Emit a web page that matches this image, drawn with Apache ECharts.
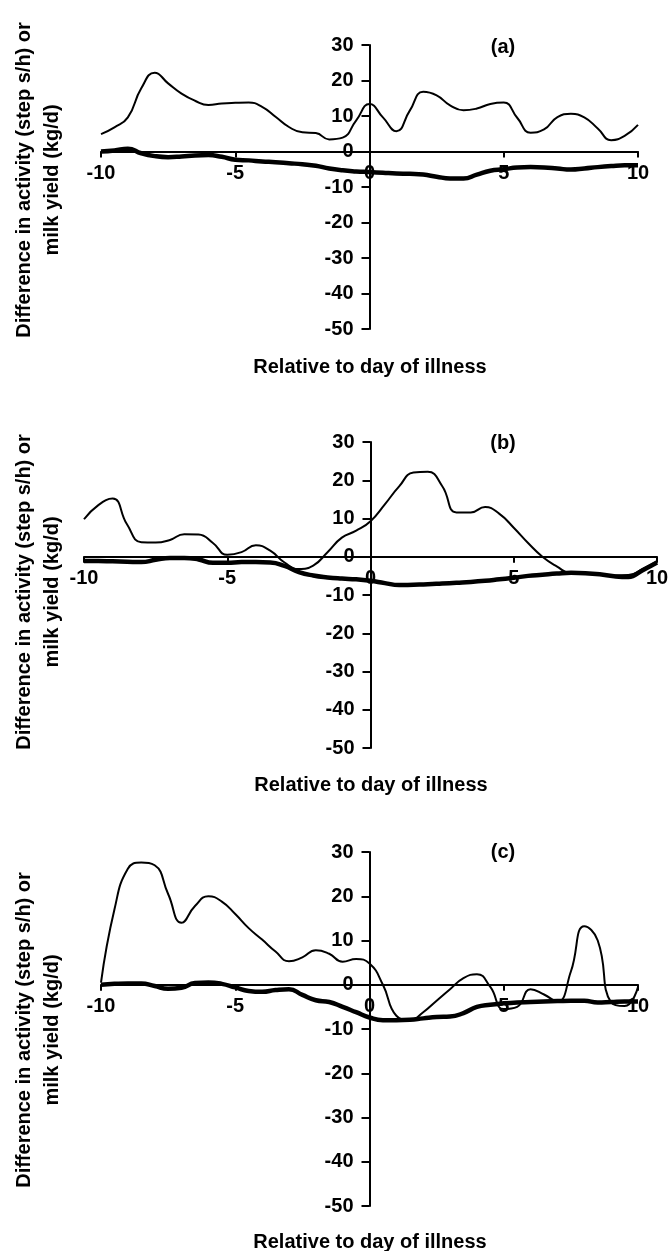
<!DOCTYPE html>
<html>
<head>
<meta charset="utf-8">
<script src="https://cdn.jsdelivr.net/npm/echarts@6/dist/echarts.min.js"></script>
<style>
html,body{margin:0;padding:0;background:#fff;}
#chart{width:672px;height:1251px;}
</style>
</head>
<body>
<div id="chart"></div>
<script>
// Days relative to illness
const days = [-10,-9.5,-9,-8.5,-8,-7.5,-7,-6.5,-6,-5.5,-5,-4.5,-4,-3.5,-3,-2.5,-2,-1.5,-1,-0.5,0,0.5,1,1.5,2,2.5,3,3.5,4,4.5,5,5.5,6,6.5,7,7.5,8,8.5,9,9.5,10];

// Panel (a)
const activityA = [4.9,6.8,9.6,17.8,22.2,19.2,16.3,14.3,13.1,13.5,13.7,13.8,12.6,9.8,6.9,5.4,5.2,3.4,3.9,8.7,13.4,9.6,5.7,11.5,16.8,15.8,13.0,11.6,12.1,13.4,13.8,9.5,5.3,6.2,9.7,10.6,9.6,6.5,3.2,4.4,7.5];
const milkA = [0,0.3,0.8,-0.5,-1.3,-1.6,-1.4,-1.1,-1.0,-1.5,-2.3,-2.5,-2.8,-3.0,-3.3,-3.6,-4.0,-4.8,-5.3,-5.6,-5.8,-6.0,-6.2,-6.3,-6.5,-7.1,-7.6,-7.6,-6.5,-5.4,-5.0,-4.5,-4.4,-4.5,-4.8,-5.1,-4.8,-4.4,-4.1,-3.9,-3.9];

// Panel (b)
const activityB = [9.8,13.5,15.2,8.5,3.8,3.7,4.4,5.9,5.8,3.6,0.5,1.2,3.0,1.6,-1.5,-3.2,-2.3,1.2,5.0,6.8,9.3,13.7,18.4,22.0,22.2,18.5,11.6,11.6,13.0,11.2,7.6,3.6,0.0,-2.5,-4.3,-4.3,-4.6,-4.9,-4.8,-3.2,-1.2];
const milkB = [-1.1,-1.1,-1.2,-1.3,-1.4,-0.8,-0.3,-0.3,-0.7,-1.6,-1.6,-1.4,-1.4,-1.5,-2.4,-4.0,-4.9,-5.4,-5.7,-5.9,-6.3,-6.9,-7.4,-7.3,-7.2,-7.0,-6.8,-6.6,-6.3,-5.9,-5.5,-5.0,-4.7,-4.4,-4.2,-4.3,-4.6,-5.1,-5.3,-3.5,-1.5];

// Panel (c)
const activityC = [0.5,17.0,26.2,27.6,27.0,20.5,14.0,17.8,20.0,18.8,16.0,12.8,10.2,7.5,5.3,6.2,7.8,7.0,5.2,5.8,4.8,0.0,-7.0,-8.0,-6.2,-3.6,-1.0,1.5,2.4,-0.5,-5.5,-5.0,-1.0,-2.2,-3.8,3.0,13.2,10.0,-4.0,-4.8,-0.5];
const milkC = [0,0.2,0.3,0.3,-0.3,-0.9,-0.7,0.4,0.5,0.2,-0.6,-1.4,-1.6,-1.2,-1.0,-2.3,-3.5,-3.9,-5.0,-6.2,-7.4,-8.0,-8.0,-7.9,-7.6,-7.3,-7.2,-6.4,-5.0,-4.5,-4.2,-4.0,-3.9,-3.8,-3.7,-3.6,-3.6,-4.0,-3.9,-3.8,-3.8];

const panelTitles = ['(a)','(b)','(c)'];
const yTicks = {min:-50, max:30, interval:10};
const xTicks = {min:-10, max:10, interval:5};
const yName = 'Difference in activity (step s/h) or\nmilk yield (kg/d)';
const xName = 'Relative to day of illness';

const W = 672, H = 1251;
const FONT = '"Liberation Sans", Arial, Helvetica, sans-serif';
const grids = [
  {left:101, right:34, top:45, bottom:922},
  {left:84, right:15, top:442, bottom:503},
  {left:101, right:34, top:852, bottom:45}
];
const panels = [[activityA, milkA],[activityB, milkB],[activityC, milkC]];

const xAxes = [], yAxes = [], series = [], graphics = [];
grids.forEach((g, i) => {
  const gw = W - g.left - g.right, gh = H - g.top - g.bottom;
  // shift axes so they cross at the origin (labels follow the axis)
  const yOff = -gw * (0 - xTicks.min) / (xTicks.max - xTicks.min);
  const xOff = -gh * (0 - yTicks.min) / (yTicks.max - yTicks.min);
  xAxes.push({
    type:'value', gridIndex:i, position:'bottom', offset:xOff,
    min:xTicks.min, max:xTicks.max, interval:xTicks.interval,
    axisLine:{onZero:false, lineStyle:{color:'#000', width:2}},
    axisTick:{show:true, length:6, lineStyle:{color:'#000', width:2}},
    axisLabel:{color:'#000', fontSize:20, fontWeight:'bold', fontFamily:FONT, margin:12},
    splitLine:{show:false}
  });
  yAxes.push({
    type:'value', gridIndex:i, position:'left', offset:yOff,
    min:yTicks.min, max:yTicks.max, interval:yTicks.interval,
    axisLine:{show:true, onZero:false, lineStyle:{color:'#000', width:2}},
    axisTick:{show:true, length:8, lineStyle:{color:'#000', width:2}},
    axisLabel:{color:'#000', fontSize:20, fontWeight:'bold', fontFamily:FONT, margin:16},
    splitLine:{show:false}
  });
  const [act, milk] = panels[i];
  series.push({
    type:'line', xAxisIndex:i, yAxisIndex:i, smooth:0.5, symbol:'none',
    lineStyle:{color:'#000', width:2}, data: days.map((d,k)=>[d, act[k]])
  });
  series.push({
    type:'line', xAxisIndex:i, yAxisIndex:i, smooth:0.5, symbol:'none',
    lineStyle:{color:'#000', width:4.5}, data: days.map((d,k)=>[d, milk[k]])
  });
});

const titleY = [47, 443, 852];
const yNameY = [180, 592, 1030];
const xNameY = [367, 785, 1242];
const xNameX = [370, 371, 370];
titleY.forEach((ty, i) => {
  graphics.push({type:'text', x:503, y:ty, style:{text:panelTitles[i], fill:'#000', font:'bold 20px '+FONT, textAlign:'center', textVerticalAlign:'middle'}});
  graphics.push({type:'text', x:38, y:yNameY[i], rotation:Math.PI/2, style:{text:yName, fill:'#000', font:'bold 20px '+FONT, lineHeight:28, textAlign:'center', textVerticalAlign:'middle'}});
  graphics.push({type:'text', x:xNameX[i], y:xNameY[i], style:{text:xName, fill:'#000', font:'bold 20px '+FONT, textAlign:'center', textVerticalAlign:'middle'}});
});

const chart = echarts.init(document.getElementById('chart'), null, {renderer:'canvas'});
chart.setOption({
  animation:false,
  backgroundColor:'#fff',
  grid: grids,
  xAxis: xAxes,
  yAxis: yAxes,
  series: series,
  graphic: graphics
});
</script>
</body>
</html>
